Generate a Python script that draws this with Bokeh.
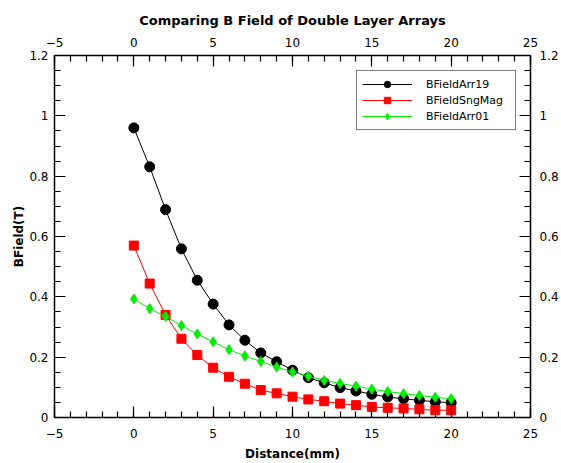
from bokeh.plotting import figure
from bokeh.models import LinearAxis, FixedTicker, Range1d, Legend, LegendItem, Title
from bokeh.embed import file_html
from bokeh.resources import INLINE

# ---- data ----
distance = list(range(21))
bfield_arr19 = [0.96, 0.831, 0.689, 0.559, 0.455, 0.376, 0.307, 0.256, 0.214, 0.185, 0.157,
                0.132, 0.115, 0.099, 0.088, 0.077, 0.068, 0.062, 0.057, 0.052, 0.049]
bfield_sngmag = [0.57, 0.444, 0.34, 0.261, 0.207, 0.165, 0.135, 0.112, 0.091, 0.08, 0.069,
                 0.06, 0.054, 0.046, 0.041, 0.035, 0.032, 0.03, 0.027, 0.024, 0.024]
bfield_arr01 = [0.393, 0.361, 0.335, 0.305, 0.277, 0.251, 0.225, 0.204, 0.186, 0.167, 0.151,
                0.137, 0.123, 0.113, 0.104, 0.094, 0.086, 0.079, 0.073, 0.067, 0.062]

x_ticks = [-5, 0, 5, 10, 15, 20, 25]
x_minor = list(range(-5, 26))
y_ticks = [0, 0.2, 0.4, 0.6, 0.8, 1.0, 1.2]
y_tick_labels = ["0", "0.2", "0.4", "0.6", "0.8", "1", "1.2"]
y_minor = [i * 0.05 for i in range(25)]

FONT = "DejaVu Sans"

p = figure(width=561, height=463, output_backend="svg", toolbar_location=None,
           x_range=Range1d(-5, 25), y_range=Range1d(0, 1.2),
           min_border_left=54, min_border_right=28, min_border_top=55, min_border_bottom=45,
           background_fill_color="white", border_fill_color="white")
p.xgrid.visible = False
p.ygrid.visible = False
p.outline_line_color = "black"

p.title = Title(text="Comparing B Field of Double Layer Arrays", align="center", offset=0,
                standoff=14,
                text_font=FONT, text_font_size="13px", text_font_style="bold", text_color="black")

def style_axis(ax, ticks, minor, overrides=None):
    ax.ticker = FixedTicker(ticks=ticks, minor_ticks=minor)
    ax.axis_line_color = "black"
    ax.axis_line_width = 1.5
    ax.major_tick_line_color = "black"
    ax.minor_tick_line_color = "black"
    ax.major_tick_in = 11
    ax.major_tick_out = 0
    ax.minor_tick_in = 6
    ax.minor_tick_out = 0
    ax.major_tick_line_width = 1.2
    ax.minor_tick_line_width = 1.2
    ax.major_label_text_font = FONT
    ax.major_label_text_font_size = "12px"
    ax.major_label_text_color = "black"
    ax.axis_label_text_font = FONT
    ax.axis_label_text_font_size = "12px"
    ax.axis_label_text_font_style = "bold"
    ax.axis_label_text_color = "black"
    if overrides:
        ax.major_label_overrides = overrides

yover = {t: l for t, l in zip(y_ticks, y_tick_labels)}

p.xaxis.axis_label = "Distance(mm)"
p.yaxis.axis_label = "BField(T)"
style_axis(p.xaxis[0], x_ticks, x_minor)
style_axis(p.yaxis[0], y_ticks, y_minor, yover)
p.xaxis[0].major_label_standoff = 11
p.xaxis[0].axis_label_standoff = 6
p.yaxis[0].major_label_standoff = 6
p.yaxis[0].axis_label_standoff = 0

top = LinearAxis()
style_axis(top, x_ticks, x_minor)
top.major_label_standoff = 9
p.add_layout(top, "above")

right = LinearAxis()
style_axis(right, y_ticks, y_minor, yover)
right.major_label_standoff = 9
p.add_layout(right, "right")

l1 = p.line(distance, bfield_arr19, color="black", line_width=1)
s1 = p.scatter(distance, bfield_arr19, marker="circle", size=10, color="black")
l2 = p.line(distance, bfield_sngmag, color="#FF0000", line_width=1)
s2 = p.scatter(distance, bfield_sngmag, marker="square", size=9, color="#FF0000")
l3 = p.line(distance, bfield_arr01, color="#00EE00", line_width=1)
s3 = p.scatter(distance, bfield_arr01, marker="diamond", size=10, color="#00EE00")

legend = Legend(items=[
    LegendItem(label="BFieldArr19", renderers=[l1, s1]),
    LegendItem(label="BFieldSngMag", renderers=[l2, s2]),
    LegendItem(label="BFieldArr01", renderers=[l3, s3]),
], location=(302, 287))
legend.glyph_width = 50
legend.glyph_height = 16
legend.label_height = 16
legend.label_width = 84
legend.spacing = 0
legend.padding = 5
legend.margin = 0
legend.label_standoff = 14
legend.label_text_font = FONT
legend.label_text_font_size = "11px"
legend.label_text_color = "black"
legend.border_line_color = "black"
legend.border_line_width = 1.2
legend.background_fill_alpha = 1
p.add_layout(legend)

open("out.html", "w").write(file_html(p, INLINE))
